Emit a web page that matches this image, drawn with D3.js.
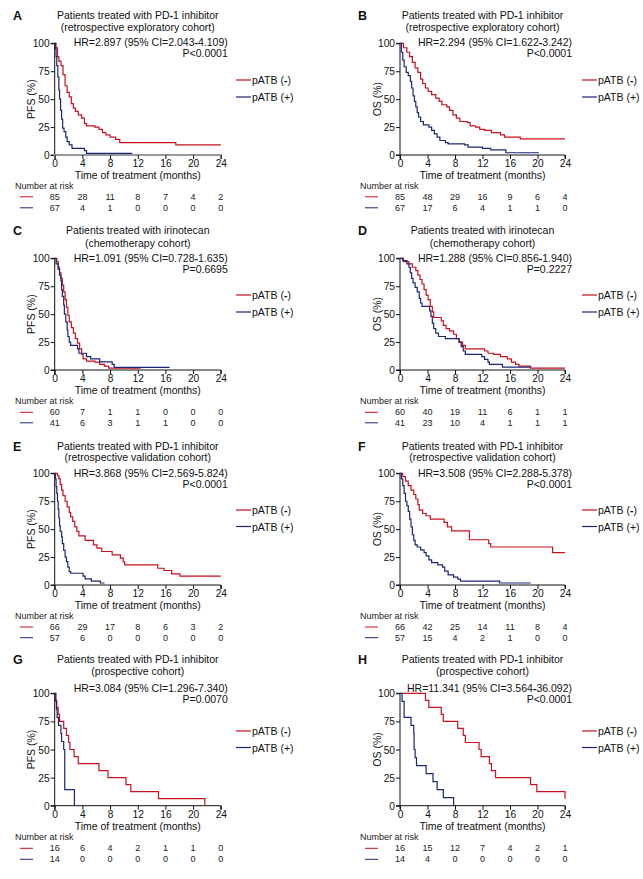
<!DOCTYPE html>
<html><head><meta charset="utf-8">
<script src="https://cdn.jsdelivr.net/npm/d3@7"></script>
<style>
body{margin:0;background:#fff;}
svg{display:block;font-family:"Liberation Sans",Arial,sans-serif;}
</style></head>
<body>
<svg id="c" width="643" height="879"></svg>
<script>
// ---- Data ----
const panelLabels = ["A","B","C","D","E","F","G","H"];
const titleLine1 = ["Patients treated with PD-1 inhibitor","Patients treated with PD-1 inhibitor","Patients treated with irinotecan","Patients treated with irinotecan","Patients treated with PD-1 inhibitor","Patients treated with PD-1 inhibitor","Patients treated with PD-1 inhibitor","Patients treated with PD-1 inhibitor"];
const titleLine2 = ["(retrospective exploratory cohort)","(retrospective exploratory cohort)","(chemotherapy cohort)","(chemotherapy cohort)","(retrospective validation cohort)","(retrospective validation cohort)","(prospective cohort)","(prospective cohort)"];
const hrText = ["HR=2.897 (95% CI=2.043-4.109)","HR=2.294 (95% CI=1.622-3.242)","HR=1.091 (95% CI=0.728-1.635)","HR=1.288 (95% CI=0.856-1.940)","HR=3.868 (95% CI=2.569-5.824)","HR=3.508 (95% CI=2.288-5.378)","HR=3.084 (95% CI=1.296-7.340)","HR=11.341 (95% CI=3.564-36.092)"];
const pText = ["P<0.0001","P<0.0001","P=0.6695","P=0.2227","P<0.0001","P<0.0001","P=0.0070","P<0.0001"];
const yTitles = ["PFS (%)","OS (%)","PFS (%)","OS (%)","PFS (%)","OS (%)","PFS (%)","OS (%)"];
const seriesNames = ["pATB (-)","pATB (+)"];
const xTicks = [0,4,8,12,16,20,24];
const yTicks = [0,25,50,75,100];
const xTitle = "Time of treatment (months)";
const riskTitle = "Number at risk";

// survival steps [time (months), survival %]
const negA = [[0,100],[0.2,96],[0.4,88],[0.6,84],[0.9,80],[1.2,72],[1.5,62],[1.8,56],[2.1,52],[2.4,46],[2.7,42],[3.0,39],[3.4,36],[3.9,33],[4.3,28],[4.6,26],[5.8,25],[6.4,23],[6.9,20],[7.4,18],[8.0,16],[8.8,14],[9.4,11],[17.5,9],[24,9]];
const posA = [[0,100],[0.1,95],[0.2,88],[0.3,80],[0.45,70],[0.6,58],[0.7,50],[0.85,40],[1.0,32],[1.15,24],[1.35,21],[1.6,16],[1.8,12],[2.1,9],[2.5,6],[4.3,4],[4.6,1.5],[11.2,1.5]];
const negB = [[0,100],[0.5,96],[1.0,92],[1.4,88],[1.8,83],[2.2,78],[2.6,74],[3.0,68],[3.3,64],[3.7,60],[4.1,57],[4.6,54],[5.2,51],[5.7,48],[6.1,45],[6.8,43],[7.2,40],[7.7,36],[8.2,33],[8.7,30],[9.8,29],[10.2,26],[11.0,25],[11.6,23],[12.3,22],[13.3,20],[14.6,18],[15.2,16],[17.5,14.5],[24,14.5]];
const posB = [[0,100],[0.2,92],[0.4,85],[0.6,79],[0.9,74],[1.2,71],[1.5,66],[1.7,60],[1.9,53],[2.1,48],[2.3,43],[2.5,38],[2.7,34],[3.0,30],[3.4,27],[4.2,25],[4.6,22],[5.0,19],[5.4,16],[5.8,13],[6.6,11],[7.0,10],[9.4,9],[9.9,7],[12.0,6],[13.2,4.5],[15.4,2],[20.2,2]];
const negC = [[0,100],[0.3,97],[0.5,92],[0.7,87],[0.9,82],[1.1,76],[1.3,70],[1.5,63],[1.7,56],[1.9,49],[2.1,43],[2.4,38],[2.7,33],[3.0,28],[3.3,24],[3.6,19],[3.9,14],[4.1,10],[4.6,8],[5.8,7],[6.5,5],[7.2,3.5],[7.8,1.7],[12.4,1.7]];
const posC = [[0,100],[0.2,95],[0.5,90],[0.7,85],[0.9,80],[1.0,72],[1.1,66],[1.3,58],[1.4,50],[1.6,43],[1.8,36],[1.9,30],[2.1,25],[2.3,22],[3.3,19],[3.5,15],[4.6,12],[5.2,10],[6.5,7.3],[8.3,5],[8.6,2.4],[16.6,2.4]];
const negD = [[0,100],[0.5,97],[1.3,95],[1.8,92],[2.3,89],[2.6,85],[2.9,81],[3.2,77],[3.5,72],[3.8,67],[4.1,63],[4.4,57],[4.7,52],[4.9,47],[6.0,44],[6.3,40],[6.7,37],[7.2,35],[7.8,32],[8.2,28],[8.6,25],[9.1,22],[9.5,19],[12.3,17],[12.8,15],[13.6,14],[14.6,12],[15.6,10],[16.2,7],[16.8,5],[17.3,3.5],[19.0,1.7],[24,1.7]];
const posD = [[0,100],[0.4,98],[1.0,95],[1.3,92],[1.5,87],[1.7,82],[1.9,78],[2.2,74],[2.5,70],[2.8,64],[3.0,60],[3.2,57],[4.3,53],[4.5,48],[4.7,42],[4.9,37],[5.2,33],[5.6,30],[6.6,28],[8.6,25],[8.9,21],[9.2,17],[9.5,14],[11.9,12],[12.3,9.5],[12.8,7],[13.0,5],[14.9,2.5],[19.0,2.5]];
const negE = [[0,100],[0.4,98],[0.6,95],[0.8,90],[1.0,85],[1.2,80],[1.5,75],[1.8,70],[2.1,65],[2.3,61],[2.6,57],[2.9,52],[3.2,48],[3.5,44],[4.4,40],[5.6,36],[6.1,33],[6.8,30],[8.3,27],[9.5,24],[9.9,21],[10.1,18],[14.9,15],[15.8,13],[16.9,10],[18.1,8],[24,8]];
const posE = [[0,100],[0.1,95],[0.2,88],[0.3,82],[0.4,75],[0.5,68],[0.6,60],[0.7,53],[0.8,48],[1.0,43],[1.1,37],[1.3,31],[1.5,25],[1.7,21],[1.9,16],[2.1,12],[2.3,10.5],[4.1,8],[4.4,5.5],[5.3,3.5],[6.6,1.8],[7.2,1.8]];
const negF = [[0,100],[0.4,97],[0.8,93],[1.2,89],[1.6,85],[2.0,81],[2.3,77],[2.6,72],[2.8,67],[3.3,64],[3.8,62],[4.4,59],[6.4,56],[6.9,52],[7.5,48.5],[10.1,40.5],[12.9,37],[13.2,34],[22.2,29],[24,29]];
const posF = [[0,100],[0.2,95],[0.4,89],[0.6,82],[0.8,75],[1.0,71],[1.2,66],[1.4,59],[1.6,52],[1.8,45],[2.0,40],[2.2,36],[2.5,34],[3.0,31.5],[3.5,29],[3.8,26],[4.2,22.5],[4.6,20],[5.5,18],[6.2,16],[6.5,12.5],[7.0,9],[7.8,7],[8.4,5.3],[8.8,3.5],[14.5,1.8],[19.0,1.8]];
const negG = [[0,100],[0.15,93.75],[0.3,87.5],[0.5,81.25],[0.7,75],[1.3,68.75],[1.7,62.5],[2.0,56.25],[2.2,50],[2.8,43.75],[3.4,37.5],[6.4,31.25],[7.7,25],[10.3,18.75],[11.0,12.5],[15.0,6.25],[21.7,0]];
const posG = [[0,100],[0.15,92.86],[0.25,85.71],[0.35,78.57],[0.55,71.43],[0.9,64.29],[1.0,57.14],[1.3,50],[1.45,14.29],[2.85,0]];
const negH = [[0,100],[3.7,93.75],[4.2,87.5],[6.0,81.25],[6.3,75],[8.4,68.75],[9.2,62.5],[9.5,56.25],[11.5,50],[11.8,43.75],[13.0,37.5],[13.3,31.25],[13.9,25],[19.0,18.75],[19.9,12.5],[24,6.25]];
const posH = [[0,100],[0.3,92.86],[0.6,78.57],[1.6,71.43],[2.0,64.29],[2.05,50],[2.2,42.86],[2.4,35.71],[3.8,28.57],[4.8,21.43],[5.4,14.29],[6.3,7.14],[7.8,0]];
const negSeries = [negA,negB,negC,negD,negE,negF,negG,negH];
const posSeries = [posA,posB,posC,posD,posE,posF,posG,posH];

// number at risk at 0,4,...,24 months
const riskNeg = [[85,28,11,8,7,4,2],[85,48,29,16,9,6,4],[60,7,1,1,0,0,0],[60,40,19,11,6,1,1],[66,29,17,8,6,3,2],[66,42,25,14,11,8,4],[16,6,4,2,1,1,0],[16,15,12,7,4,2,1]];
const riskPos = [[67,4,1,0,0,0,0],[67,17,6,4,1,1,0],[41,6,3,1,1,0,0],[41,23,10,4,1,1,1],[57,6,0,0,0,0,0],[57,15,4,2,1,0,0],[14,0,0,0,0,0,0],[14,4,0,0,0,0,0]];

// ---- Layout ----
const RED = "#c8101e", BLUE = "#1a2677";
const rows = [
  {t1:15, t2:26.5, hr:42, p:52.5, top:43.3, bot:155, tick:163.3, xt:175, nar:186, r1:196.8, r2:207.8},
  {t1:230, t2:242.7, hr:258.3, p:269, top:258.3, bot:370, tick:378.6, xt:390, nar:401, r1:412.3, r2:422.8},
  {t1:445.7, t2:457.3, hr:473.3, p:484.3, top:473.3, bot:585, tick:593.6, xt:605, nar:616, r1:627, r2:637.7},
  {t1:659, t2:671, hr:688.3, p:699.3, top:693.3, bot:805.7, tick:814.3, xt:825.5, nar:836.7, r1:848.3, r2:859.3}
];
const cols = [
  {x0:54.7, x1:220.8, lab:13, ylab:31, nar:15, dash0:20, dash1:33, leg0:236, leg1:251},
  {x0:400, x1:565, lab:358, ylab:377, nar:360, dash0:365, dash1:378, leg0:582, leg1:597}
];
const legendY = [[80,97],[295,312],[510,526.5],[731,747.5]];

const svg = d3.select("#c");

// write text with bold hyphens (as in the reference)
function richText(sel, str) {
  str.split(/(-)/).forEach(part => {
    if (part === "") return;
    const t = sel.append("tspan").text(part);
    if (part === "-") t.attr("font-weight", "bold");
  });
  return sel;
}

panelLabels.forEach((lab, i) => {
  const R = rows[Math.floor(i/2)], C = cols[i%2];
  const g = svg.append("g");
  const x = d3.scaleLinear().domain([0,24]).range([C.x0, C.x1]);
  const y = d3.scaleLinear().domain([0,100]).range([R.bot, R.top]);

  g.append("text").attr("x", C.lab).attr("y", R.t1+1).attr("dominant-baseline","central")
    .attr("font-size", 12.5).attr("font-weight","bold").attr("fill","#111").text(lab);
  const cx = (C.x0 + C.x1)/2;
  richText(g.append("text").attr("x", cx).attr("y", R.t1).attr("dominant-baseline","central")
    .attr("text-anchor","middle").attr("font-size",10.5).attr("fill","#111"), titleLine1[i]);
  g.append("text").attr("x", cx).attr("y", R.t2).attr("dominant-baseline","central")
    .attr("text-anchor","middle").attr("font-size",10.5).attr("fill","#111").text(titleLine2[i]);
  richText(g.append("text").attr("x", C.x1+7).attr("y", R.hr).attr("dominant-baseline","central")
    .attr("text-anchor","end").attr("font-size",10.5).attr("fill","#111"), hrText[i]);
  g.append("text").attr("x", C.x1+7).attr("y", R.p).attr("dominant-baseline","central")
    .attr("text-anchor","end").attr("font-size",10.5).attr("fill","#111").text(pText[i]);

  // axes
  const yAxis = d3.axisLeft(y).tickValues(yTicks).tickSize(4).tickPadding(1).tickFormat(d3.format("d"));
  const ya = g.append("g").attr("transform",`translate(${C.x0},0)`).call(yAxis);
  const xAxis = d3.axisBottom(x).tickValues(xTicks).tickSize(4).tickPadding(1).tickFormat(d3.format("d"));
  const xa = g.append("g").attr("transform",`translate(0,${R.bot})`).call(xAxis);
  [ya, xa].forEach(a => {
    a.selectAll("text").attr("font-size",10.2).attr("fill","#111").attr("font-family",'"Liberation Sans",Arial,sans-serif');
    a.selectAll("path,line").attr("stroke","#111").attr("stroke-width",1);
  });
  ya.select(".domain").attr("d", `M-4,${R.top}H0V${R.bot}H-4`);
  xa.select(".domain").attr("d", `M${C.x0},4V0H${C.x1}V4`);
  if (i === 0) xa.select(".domain").attr("stroke","#999").attr("stroke-width",2);
  xa.selectAll(".tick text").attr("y", null).attr("dy", null).attr("dominant-baseline","central")
    .attr("transform", `translate(0,${R.tick - R.bot})`);
  ya.selectAll(".tick text").attr("dy", "0.35em");

  g.append("text").attr("transform",`translate(${C.ylab},${(R.top+R.bot)/2}) rotate(-90)`)
    .attr("text-anchor","middle").attr("dominant-baseline","central")
    .attr("font-size",10.5).attr("fill","#111").text(yTitles[i]);
  g.append("text").attr("x", cx).attr("y", R.xt).attr("dominant-baseline","central")
    .attr("text-anchor","middle").attr("font-size",10.5).attr("fill","#111").text(xTitle);

  // curves
  const line = d3.line().x(d=>x(d[0])).y(d=>y(d[1])).curve(d3.curveStepAfter);
  g.append("path").datum(negSeries[i]).attr("d", line).attr("fill","none").attr("stroke",RED).attr("stroke-width",1.2);
  g.append("path").datum(posSeries[i]).attr("d", line).attr("fill","none").attr("stroke",BLUE).attr("stroke-width",1.2);

  // legend
  const LY = legendY[Math.floor(i/2)];
  [RED, BLUE].forEach((col, k) => {
    g.append("line").attr("x1", C.leg0).attr("x2", C.leg1).attr("y1", LY[k]).attr("y2", LY[k])
      .attr("stroke", col).attr("stroke-width",1.2);
    richText(g.append("text").attr("x", C.leg1+1).attr("y", LY[k]).attr("dominant-baseline","central")
      .attr("font-size",10.5).attr("fill","#111"), seriesNames[k]);
  });

  // number at risk
  g.append("text").attr("x", C.nar).attr("y", R.nar).attr("dominant-baseline","central")
    .attr("font-size",9).attr("fill","#222").text(riskTitle);
  [[riskNeg[i], RED, R.r1],[riskPos[i], BLUE, R.r2]].forEach(([vals, col, yy]) => {
    g.append("line").attr("x1", C.dash0).attr("x2", C.dash1).attr("y1", yy).attr("y2", yy)
      .attr("stroke", col).attr("stroke-width",1);
    g.selectAll(null).data(vals).enter().append("text")
      .attr("x", (d,j)=>x(xTicks[j])).attr("y", yy).attr("dominant-baseline","central")
      .attr("text-anchor","middle").attr("font-size",9).attr("fill","#222").text(d=>d);
  });
});
</script>
</body></html>
